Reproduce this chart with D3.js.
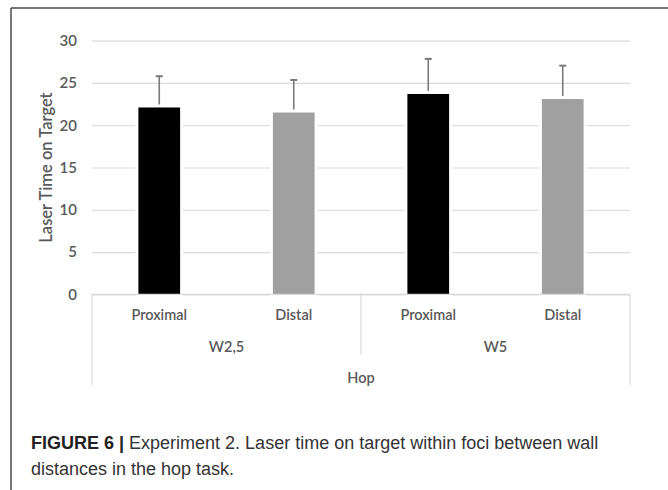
<!DOCTYPE html>
<html>
<head>
<meta charset="utf-8">
<script src="https://cdn.jsdelivr.net/npm/d3@7"></script>
<style>
  html, body { margin: 0; padding: 0; background: #fff; }
  svg { display: block; }
</style>
</head>
<body>
<script>
// Laser time on target, hop task, by wall distance and foci
const groups = ["W2,5", "W5"];
const conditions = ["Proximal", "Distal"];
const means = [22.1, 21.5, 23.7, 23.1];
const sds = [3.7, 3.85, 4.15, 3.95];
const barColors = ["#000000", "#a0a0a0"];
const yTicks = [0, 5, 10, 15, 20, 25, 30];
const outerLabel = "Hop";
const yTitle = "Laser Time on Target";

const W = 668, H = 490;
const svg = d3.select("body").append("svg").attr("width", W).attr("height", H);

// figure frame (top and left edges)
svg.append("line").attr("x1", 11).attr("x2", W).attr("y1", 8).attr("y2", 8)
  .attr("stroke", "#4a4a4a").attr("stroke-width", 1.5);
svg.append("line").attr("x1", 11).attr("x2", 11).attr("y1", 8).attr("y2", H)
  .attr("stroke", "#4a4a4a").attr("stroke-width", 1.5);

const plot = { left: 92, right: 630, top: 40.7, bottom: 294.3 };

// one bar per group x condition
const rows = [];
groups.forEach((g, gi) => conditions.forEach((c, ci) => {
  const i = gi * conditions.length + ci;
  rows.push({ key: i, group: g, cond: c, ci, mean: means[i], sd: sds[i] });
}));

const x = d3.scaleBand().domain(rows.map(d => d.key))
  .range([plot.left, plot.right]).paddingInner(0.69).paddingOuter(0.345);
const y = d3.scaleLinear().domain([0, 30]).range([plot.bottom, plot.top]);

const font = "Lato, 'Open Sans', sans-serif";
const textCol = "#595959";
const gridCol = "#d9d9d9";

// horizontal gridlines + tick labels via a left axis
const yAxis = d3.axisLeft(y).tickValues(yTicks).tickSize(-(plot.right - plot.left)).tickPadding(15);
const gy = svg.append("g").attr("transform", `translate(${plot.left},0)`).call(yAxis);
gy.select(".domain").remove();
gy.selectAll(".tick line").attr("stroke", gridCol).attr("stroke-width", 1.2);
gy.selectAll(".tick text").attr("fill", textCol).attr("font-family", font)
  .attr("font-size", 15).attr("font-weight", 600);

// error bars (upper whisker only)
const eb = svg.append("g").attr("stroke", "#7a7a7a").attr("stroke-width", 1.6);
rows.forEach(d => {
  const cx = x(d.key) + x.bandwidth() / 2;
  eb.append("line").attr("x1", cx).attr("x2", cx).attr("y1", y(d.mean)).attr("y2", y(d.mean + d.sd));
  eb.append("line").attr("x1", cx - 3.5).attr("x2", cx + 3.5)
    .attr("y1", y(d.mean + d.sd)).attr("y2", y(d.mean + d.sd)).attr("stroke-width", 2);
});

// bars, with a white halo that interrupts the gridlines
svg.append("g").selectAll("rect").data(rows).join("rect")
  .attr("x", d => x(d.key)).attr("width", x.bandwidth())
  .attr("y", d => y(d.mean)).attr("height", d => y(0) - y(d.mean))
  .attr("fill", d => barColors[d.ci])
  .attr("stroke", "#fff").attr("stroke-width", 6).attr("paint-order", "stroke");

// category axis baseline and group separators
const ax = svg.append("g").attr("stroke", gridCol).attr("stroke-width", 1.2);
ax.append("line").attr("x1", plot.left).attr("x2", plot.right).attr("y1", y(0)).attr("y2", y(0));
const mid = (plot.left + plot.right) / 2;
ax.append("line").attr("x1", plot.left).attr("x2", plot.left).attr("y1", y(0)).attr("y2", 385);
ax.append("line").attr("x1", plot.right).attr("x2", plot.right).attr("y1", y(0)).attr("y2", 385);
ax.append("line").attr("x1", mid).attr("x2", mid).attr("y1", y(0)).attr("y2", 355);

const lab = svg.append("g").attr("fill", textCol).attr("font-family", font)
  .attr("font-size", 14.5).attr("font-weight", 600).attr("text-anchor", "middle");
rows.forEach(d => {
  lab.append("text").attr("x", x(d.key) + x.bandwidth() / 2).attr("y", 320).text(d.cond);
});
groups.forEach((g, gi) => {
  const gx = gi === 0 ? (plot.left + mid) / 2 : (mid + plot.right) / 2;
  lab.append("text").attr("x", gx).attr("y", 351.5).text(g);
});
lab.append("text").attr("x", mid).attr("y", 383).text(outerLabel);

// y axis title
svg.append("text").attr("transform", `translate(52,${(plot.top + plot.bottom) / 2}) rotate(-90)`)
  .attr("text-anchor", "middle").attr("fill", textCol).attr("font-family", font)
  .attr("font-size", 16.5).attr("font-weight", 600).text(yTitle);

// caption
const cap = svg.append("text").attr("font-family", "'Liberation Sans', Arial, sans-serif")
  .attr("font-size", 18).attr("fill", "#333");
const l1 = cap.append("tspan").attr("x", 31).attr("y", 449);
l1.append("tspan").attr("font-weight", "bold").attr("fill", "#222").text("FIGURE 6 | ");
l1.append("tspan").text("Experiment 2. Laser time on target within foci between wall");
cap.append("tspan").attr("x", 31).attr("y", 475).text("distances in the hop task.");
</script>
</body>
</html>
